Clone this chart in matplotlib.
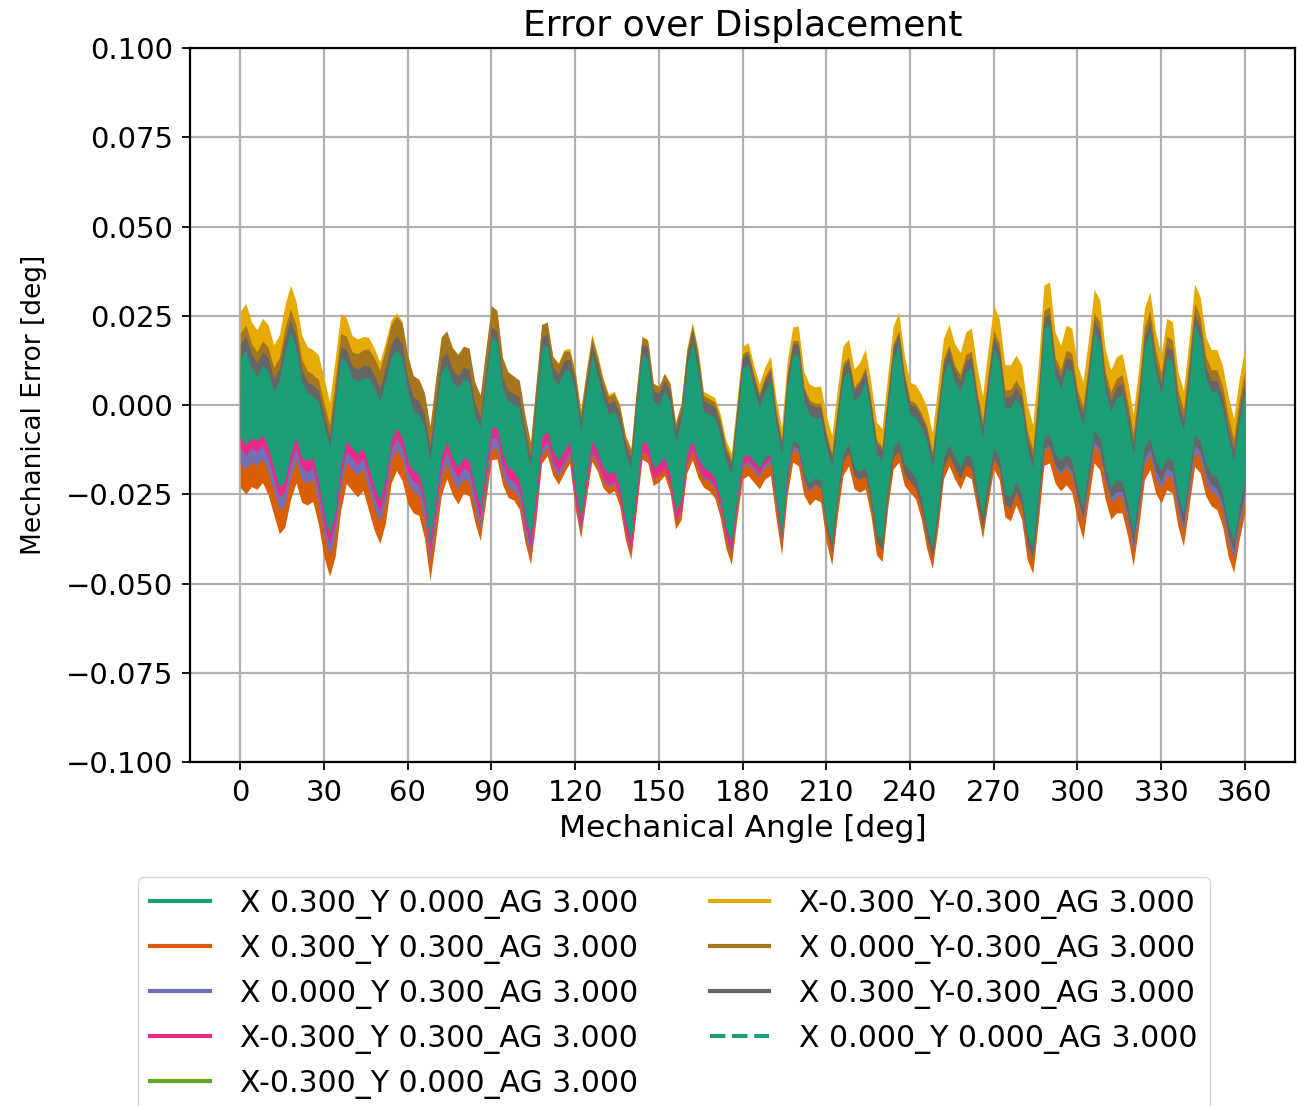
import numpy as np
from matplotlib import pyplot as plt

# angle grid of the readings (deg)
angle = np.arange(0, 362, 2)

# upper / lower edge of the centre trace (X0.000_Y0.000)
base_upper = [0.0132, 0.0155, 0.0104, 0.0081, 0.0113, 0.0095, 0.0039, 0.0067, 0.0150, 0.0206,
              0.0160, 0.0067, 0.0034, 0.0025, 0.0011, -0.0054, -0.0119, 0.0002, 0.0132, 0.0123,
              0.0076, 0.0067, 0.0076, 0.0076, 0.0048, 0.0011, 0.0067, 0.0132, 0.0155, 0.0132,
              0.0039, -0.0017, -0.0026, -0.0063, -0.0156, -0.0026, 0.0095, 0.0113, 0.0067, 0.0048,
              0.0072, 0.0067, -0.0026, -0.0063, 0.0067, 0.0188, 0.0178, 0.0048, 0.0011, 0.0002,
              -0.0007, -0.0100, -0.0175, -0.0007, 0.0160, 0.0169, 0.0076, 0.0058, 0.0095, 0.0099,
              0.0039, -0.0072, 0.0039, 0.0141, 0.0085, 0.0020, -0.0026, -0.0017, -0.0054, -0.0137,
              -0.0175, -0.0007, 0.0141, 0.0132, 0.0011, 0.0002, 0.0039, 0.0011, -0.0100, -0.0045,
              0.0104, 0.0178, 0.0104, -0.0017, -0.0026, -0.0035, -0.0082, -0.0156, -0.0193, -0.0045,
              0.0104, 0.0113, 0.0048, -0.0007, 0.0039, 0.0067, -0.0054, -0.0137, 0.0048, 0.0141,
              0.0141, 0.0011, -0.0026, -0.0035, -0.0035, -0.0119, -0.0175, -0.0045, 0.0076, 0.0095,
              0.0011, 0.0030, 0.0067, -0.0026, -0.0137, -0.0156, -0.0007, 0.0132, 0.0169, 0.0048,
              -0.0026, -0.0035, -0.0063, -0.0100, -0.0175, -0.0045, 0.0085, 0.0123, 0.0067, 0.0039,
              0.0095, 0.0104, -0.0007, -0.0091, 0.0039, 0.0160, 0.0123, -0.0007, -0.0007, 0.0020,
              -0.0007, -0.0119, -0.0175, -0.0007, 0.0216, 0.0225, 0.0085, 0.0048, 0.0104, 0.0095,
              -0.0007, -0.0054, 0.0067, 0.0206, 0.0178, 0.0039, -0.0017, 0.0020, 0.0030, -0.0045,
              -0.0137, -0.0007, 0.0160, 0.0206, 0.0095, 0.0030, 0.0132, 0.0123, -0.0017, -0.0072,
              0.0067, 0.0225, 0.0188, 0.0076, 0.0039, 0.0039, -0.0007, -0.0091, -0.0156, -0.0045,
              0.0039]
base_lower = [-0.0091, -0.0110, -0.0091, -0.0100, -0.0082, -0.0119, -0.0175, -0.0230, -0.0212, -0.0137,
              -0.0091, -0.0147, -0.0156, -0.0147, -0.0212, -0.0305, -0.0360, -0.0305, -0.0175, -0.0100,
              -0.0119, -0.0137, -0.0119, -0.0175, -0.0230, -0.0268, -0.0212, -0.0100, -0.0063, -0.0091,
              -0.0156, -0.0184, -0.0193, -0.0258, -0.0379, -0.0268, -0.0147, -0.0100, -0.0147, -0.0175,
              -0.0147, -0.0156, -0.0230, -0.0286, -0.0175, -0.0063, -0.0063, -0.0137, -0.0175, -0.0184,
              -0.0212, -0.0305, -0.0370, -0.0249, -0.0091, -0.0072, -0.0128, -0.0156, -0.0128, -0.0100,
              -0.0230, -0.0314, -0.0203, -0.0100, -0.0128, -0.0175, -0.0193, -0.0184, -0.0230, -0.0323,
              -0.0379, -0.0240, -0.0100, -0.0110, -0.0175, -0.0165, -0.0147, -0.0193, -0.0295, -0.0268,
              -0.0137, -0.0100, -0.0147, -0.0175, -0.0184, -0.0203, -0.0258, -0.0342, -0.0388, -0.0258,
              -0.0147, -0.0137, -0.0156, -0.0175, -0.0147, -0.0137, -0.0258, -0.0360, -0.0193, -0.0100,
              -0.0110, -0.0193, -0.0221, -0.0203, -0.0212, -0.0323, -0.0388, -0.0249, -0.0137, -0.0110,
              -0.0175, -0.0184, -0.0175, -0.0249, -0.0360, -0.0379, -0.0230, -0.0119, -0.0100, -0.0165,
              -0.0184, -0.0203, -0.0258, -0.0342, -0.0398, -0.0286, -0.0147, -0.0110, -0.0147, -0.0175,
              -0.0137, -0.0147, -0.0230, -0.0314, -0.0212, -0.0119, -0.0147, -0.0249, -0.0258, -0.0212,
              -0.0249, -0.0360, -0.0398, -0.0249, -0.0091, -0.0082, -0.0137, -0.0156, -0.0137, -0.0156,
              -0.0230, -0.0286, -0.0175, -0.0072, -0.0091, -0.0175, -0.0230, -0.0212, -0.0212, -0.0277,
              -0.0360, -0.0249, -0.0119, -0.0091, -0.0156, -0.0184, -0.0147, -0.0156, -0.0249, -0.0305,
              -0.0193, -0.0082, -0.0100, -0.0165, -0.0193, -0.0203, -0.0249, -0.0333, -0.0379, -0.0286,
              -0.0212]

# shift of each trace against the centre trace, read every 30 deg
knots = np.arange(0, 390, 30)
labels = ["X 0.300_Y 0.000_AG 3.000", "X 0.300_Y 0.300_AG 3.000", "X 0.000_Y 0.300_AG 3.000",
          "X-0.300_Y 0.300_AG 3.000", "X-0.300_Y 0.000_AG 3.000", "X-0.300_Y-0.300_AG 3.000",
          "X 0.000_Y-0.300_AG 3.000", "X 0.300_Y-0.300_AG 3.000", "X 0.000_Y 0.000_AG 3.000"]
shift_upper = [
    [0.000, 0.000, 0.000, 0.000, 0.000, 0.000, 0.000, 0.000, 0.000, 0.000, 0.000, 0.000, 0.000],
    [-0.014, -0.012, -0.012, -0.009, -0.006, -0.005, -0.006, -0.006, -0.006, -0.006, -0.009, -0.009, -0.009],
    [-0.007, -0.006, -0.006, -0.006, -0.004, -0.003, -0.003, -0.002, -0.002, -0.003, -0.004, -0.005, -0.005],
    [-0.003, -0.003, -0.003, -0.003, -0.003, -0.003, -0.002, -0.001, -0.001, -0.001, -0.001, -0.001, -0.001],
    [0.001, 0.001, 0.001, 0.001, 0.001, 0.001, 0.001, 0.001, 0.001, 0.001, 0.001, 0.001, 0.001],
    [0.013, 0.013, 0.010, 0.006, 0.006, 0.005, 0.006, 0.009, 0.009, 0.012, 0.012, 0.011, 0.012],
    [0.007, 0.006, 0.010, 0.009, 0.005, 0.005, 0.004, 0.004, 0.004, 0.005, 0.005, 0.006, 0.006],
    [0.004, 0.003, 0.004, 0.003, 0.003, 0.003, 0.003, 0.003, 0.003, 0.003, 0.003, 0.003, 0.003],
    [0.000, 0.000, 0.000, 0.000, 0.000, 0.000, 0.000, 0.000, 0.000, 0.000, 0.000, 0.000, 0.000],
]
shift_lower = [
    [0.000, 0.000, 0.000, 0.000, 0.000, 0.000, 0.000, 0.000, 0.000, 0.000, 0.000, 0.000, 0.000],
    [-0.014, -0.012, -0.012, -0.009, -0.006, -0.005, -0.006, -0.006, -0.006, -0.006, -0.009, -0.009, -0.009],
    [-0.007, -0.006, -0.006, -0.006, -0.004, -0.003, -0.003, -0.002, -0.002, -0.003, -0.004, -0.005, -0.005],
    [-0.003, -0.003, -0.003, -0.003, -0.003, -0.003, -0.002, -0.001, -0.001, -0.001, -0.001, -0.001, -0.001],
    [0.001, 0.001, 0.001, 0.001, 0.001, 0.001, 0.001, 0.001, 0.001, 0.001, 0.001, 0.001, 0.001],
    [0.013, 0.013, 0.010, 0.006, 0.006, 0.005, 0.006, 0.009, 0.009, 0.012, 0.012, 0.011, 0.012],
    [0.004, 0.004, 0.004, 0.004, 0.004, 0.004, 0.004, 0.004, 0.004, 0.004, 0.004, 0.004, 0.004],
    [0.000, 0.000, 0.000, 0.000, 0.000, 0.000, 0.000, -0.002, -0.003, -0.003, -0.003, -0.003, -0.003],
    [0.000, 0.000, 0.000, 0.000, 0.000, 0.000, 0.000, 0.000, 0.000, 0.000, 0.000, 0.000, 0.000],
]
colors = ['#1b9e77', '#d95f02', '#7570b3', '#e7298a', '#66a61e',
          '#e6ab02', '#a6761d', '#666666', '#1b9e77']
styles = ['-'] * 8 + ['--']

fig = plt.figure(figsize=(12.97, 11.06), dpi=100)
ax = fig.add_axes([0.1465, 0.311, 0.852, 0.6455])

up = np.array(base_upper)
lo = np.array(base_lower)
for i in range(9):
    hi_i = up + np.interp(angle, knots, shift_upper[i])
    lo_i = lo + np.interp(angle, knots, shift_lower[i])
    ax.fill_between(angle, lo_i, hi_i, color=colors[i], lw=0, zorder=2 + i * 0.1)
    ax.plot(angle[1:-1], ((hi_i + lo_i) / 2)[1:-1], color=colors[i], ls=styles[i], lw=3,
            label=labels[i], zorder=2.05 + i * 0.1)

ax.set_ylim(-0.1, 0.1)
ax.set_xticks(np.arange(0, 390, 30))
yt = np.round(np.arange(-0.1, 0.1001, 0.025), 3)
ax.set_yticks(yt)
ax.set_yticklabels([f"{v:.3f}".replace('-', '\u2212') if v != 0 else "0.000" for v in yt])
ax.grid(True, color='#b0b0b0', lw=1.6)
ax.set_axisbelow(True)
ax.tick_params(labelsize=21, length=6, width=1.3, pad=6)
for s in ax.spines.values():
    s.set_linewidth(1.6)

ax.set_title('Error over Displacement', fontsize=26, pad=9)
ax.set_xlabel('Mechanical Angle [deg]', fontsize=22.5, labelpad=5)
ax.set_ylabel('Mechanical Error [deg]', fontsize=19, labelpad=14)

ax.legend(loc='upper center', bbox_to_anchor=(0.438, -0.14), ncol=2, fontsize=21.5,
          handlelength=2.0, handletextpad=1.0, columnspacing=2.4, frameon=True)

plt.savefig("out.png")
